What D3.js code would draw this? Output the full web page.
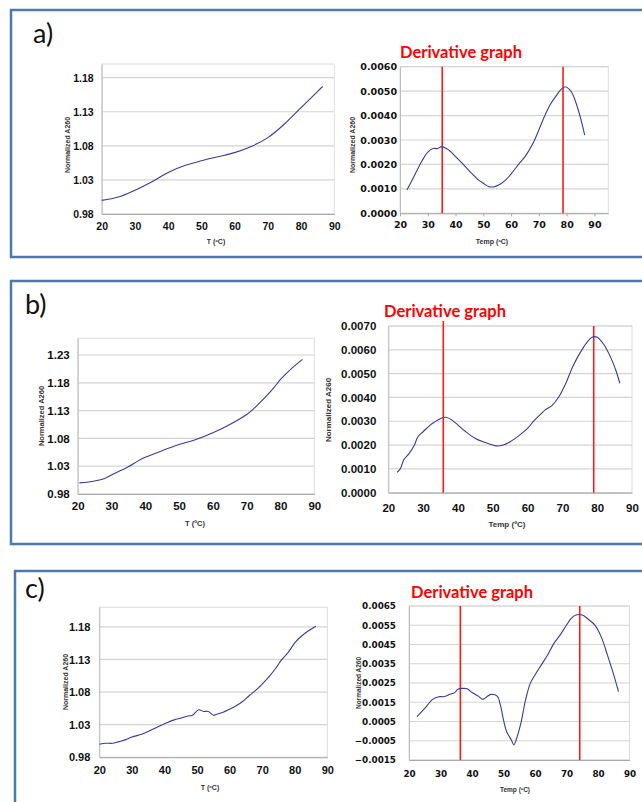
<!DOCTYPE html>
<html>
<head>
<meta charset="utf-8">
<script src="https://cdn.jsdelivr.net/npm/d3@7"></script>
<style>
  body { margin: 0; background: white; }
</style>
</head>
<body>
<div id="chart"></div>
<script>
// ---- data ----
var tempTicks = [20, 30, 40, 50, 60, 70, 80, 90];

var meltTicksA = [0.98, 1.03, 1.08, 1.13, 1.18];
var meltTicksB = [0.98, 1.03, 1.08, 1.13, 1.18, 1.23];
var meltTicksC = [0.98, 1.03, 1.08, 1.13, 1.18];
var derivTicksA = [0, 0.001, 0.002, 0.003, 0.004, 0.005, 0.006];
var derivTicksB = [0, 0.001, 0.002, 0.003, 0.004, 0.005, 0.006, 0.007];
var derivTicksC = [-0.0015, -0.0005, 0.0005, 0.0015, 0.0025, 0.0035, 0.0045, 0.0055, 0.0065];

// a) melting curve
var aMeltT = [20, 25, 30, 35, 40, 45, 50, 55, 60, 65, 70, 75, 80, 85, 86.5];
var aMeltA = [1.000, 1.005, 1.015, 1.027, 1.041, 1.051, 1.058, 1.064, 1.070, 1.079, 1.092, 1.112, 1.136, 1.160, 1.167];
// a) derivative
var aDerivT = [22.5, 25, 28, 30, 32, 33.5, 35, 37, 38, 40, 42, 45, 48, 50, 52, 54, 56, 58, 60, 63, 65, 68, 70, 72, 74, 76, 78, 79.5, 81, 82, 84, 85.5, 86.5];
var aDerivD = [0.00095, 0.0015, 0.00216, 0.0025, 0.00266, 0.00265, 0.00273, 0.00263, 0.00255, 0.00232, 0.00209, 0.00173, 0.00139, 0.00123, 0.00109, 0.00109, 0.00119, 0.00136, 0.00161, 0.00205, 0.00232, 0.00289, 0.00341, 0.00396, 0.00443, 0.00477, 0.00507, 0.00518, 0.00507, 0.00491, 0.0043, 0.00368, 0.0032];
var aPeaks = [35.2, 78.7];

// b) melting curve
var bMeltT = [20.5, 25, 28, 30, 33, 35, 38, 40, 45, 50, 55, 60, 65, 70, 72, 75, 78, 80, 83, 86.5];
var bMeltA = [1.000, 1.0035, 1.008, 1.014, 1.023, 1.029, 1.040, 1.046, 1.058, 1.069, 1.078, 1.090, 1.105, 1.123, 1.133, 1.151, 1.171, 1.186, 1.204, 1.222];
// b) derivative
var bDerivT = [22.5, 23.5, 24.5, 26, 27.5, 28.5, 30, 32, 33, 35, 36.5, 38, 40, 42, 45, 48, 50, 51.5, 53, 55, 58, 60, 62, 64, 65, 67, 69, 71, 73, 75, 77, 78.5, 80, 82, 84, 85.5, 86.5];
var bDerivD = [0.00085, 0.00102, 0.0014, 0.00165, 0.002, 0.00235, 0.00256, 0.00284, 0.00294, 0.00312, 0.00317, 0.00308, 0.00284, 0.00259, 0.00228, 0.0021, 0.002, 0.00196, 0.002, 0.00214, 0.00245, 0.0027, 0.00305, 0.00333, 0.00347, 0.00366, 0.00403, 0.0046, 0.0053, 0.00585, 0.0063, 0.00653, 0.00653, 0.0062, 0.00564, 0.00508, 0.00459];
var bPeaks = [35.8, 79.0];

// c) melting curve
var cMeltT = [20, 22, 24, 26, 28, 30, 33, 35, 38, 40, 43, 45, 47.5, 48.5, 50.5, 52, 53.5, 55, 56, 58, 60, 62, 64, 66, 68, 70, 72, 74, 76, 78, 80, 82, 84, 86.5];
var cMeltA = [1.000, 1.0015, 1.0015, 1.004, 1.0067, 1.011, 1.0154, 1.0195, 1.027, 1.0313, 1.0374, 1.040, 1.0436, 1.044, 1.0528, 1.0503, 1.0503, 1.0446, 1.046, 1.0492, 1.0538, 1.059, 1.0656, 1.0744, 1.0826, 1.0923, 1.103, 1.1154, 1.1297, 1.141, 1.1554, 1.1656, 1.1733, 1.181];
// c) derivative
var cDerivT = [22.5, 25, 27.5, 29.5, 31, 33, 34.5, 35.5, 37, 38.5, 40, 42, 43.5, 45, 46, 48, 49, 50, 51, 52.5, 53.3, 54, 55.5, 57, 58.5, 60, 62, 64, 66, 68, 70, 71.5, 73, 75, 77, 79, 81, 83, 85, 86.5];
var cDerivD = [0.00075, 0.00118, 0.00165, 0.00179, 0.00179, 0.00191, 0.002, 0.00217, 0.00222, 0.0022, 0.00201, 0.00182, 0.00165, 0.00182, 0.00191, 0.00182, 0.00136, 0.00058, -0.00003, -0.00046, -0.00072, -0.00046, 0.0004, 0.00162, 0.00248, 0.00292, 0.00344, 0.00395, 0.00456, 0.005, 0.00551, 0.00586, 0.00603, 0.00603, 0.0058, 0.00551, 0.00491, 0.00395, 0.00292, 0.00205];
var cPeaks = [36.3, 74.2];

// ---- page ----
var svgWidth  = 642;
var svgHeight = 802;
var lineColor = "#3a3a9e";
var gridColor = "#d4d4d4";

var svg = d3.select("#chart")
  .append("svg")
  .attr("width", svgWidth)
  .attr("height", svgHeight);

svg.append("rect")
  .attr("width", svgWidth)
  .attr("height", svgHeight)
  .style("fill", "white");

// blue frames round each panel
var frames = [
  { x: 11, y: 10,  w: 640, h: 247, label: "a)", lx: 33, ly: 43 },
  { x: 11, y: 281, w: 640, h: 263, label: "b)", lx: 25, ly: 314 },
  { x: 15, y: 571, w: 640, h: 240, label: "c)", lx: 25, ly: 598 }
];

frames.forEach(function(f) {
  svg.append("rect")
    .attr("x", f.x).attr("y", f.y)
    .attr("width", f.w).attr("height", f.h)
    .style("fill", "none")
    .style("stroke", "#4d79ad")
    .style("stroke-width", 2.5);
  svg.append("text")
    .attr("x", f.lx).attr("y", f.ly)
    .attr("font-family", "Lato, 'Open Sans', sans-serif")
    .attr("font-size", 27)
    .attr("fill", "#111")
    .text(f.label);
});

// one chart
function drawChart(c) {
  var x = d3.scaleLinear().domain(c.xDomain).range([c.x0, c.x1]);
  var y = d3.scaleLinear().domain(c.yDomain).range([c.yBot, c.yTop]);
  var g = svg.append("g");

  // plot frame and gridlines
  g.append("rect")
    .attr("x", c.x0).attr("y", c.yTop)
    .attr("width", c.x1 - c.x0).attr("height", c.yBot - c.yTop)
    .style("fill", "none").style("stroke", "#dcdcdc").style("stroke-width", 1);

  g.selectAll(".grid")
    .data(c.yTicks)
    .enter()
      .append("line")
      .attr("x1", c.x0).attr("x2", c.x1)
      .attr("y1", function(d) { return y(d); })
      .attr("y2", function(d) { return y(d); })
      .style("stroke", gridColor).style("stroke-width", 1.2);

  // axes
  var yAxis = d3.axisLeft(y)
    .tickValues(c.yTicks)
    .tickSize(0)
    .tickPadding(c.yGap)
    .tickFormat(d3.format(c.fmt));
  var ya = g.append("g").attr("transform", "translate(" + c.x0 + ",0)").call(yAxis);
  ya.select(".domain").style("stroke", "#bdbdbd");
  ya.selectAll("text")
    .attr("font-family", c.font).attr("font-size", c.size)
    .attr("font-weight", "bold").attr("fill", "#111");

  var xAxis = d3.axisBottom(x)
    .tickValues(tempTicks)
    .tickSizeInner(c.tick)
    .tickSizeOuter(0)
    .tickFormat(d3.format("d"));
  var xa = g.append("g").attr("transform", "translate(0," + c.yBot + ")").call(xAxis);
  xa.select(".domain").style("stroke", "#a8a8a8");
  xa.selectAll("line").style("stroke", "#a8a8a8");
  xa.selectAll("text")
    .attr("y", c.xGap).attr("dy", "0.35em")
    .attr("font-family", c.font).attr("font-size", c.size)
    .attr("font-weight", "bold").attr("fill", "#111");

  // axis titles
  g.append("text")
    .attr("x", c.xtX).attr("y", c.xtY)
    .attr("text-anchor", "middle")
    .attr("font-family", "'Liberation Sans', Arial, sans-serif")
    .attr("font-size", c.titleSize).attr("font-weight", "bold").attr("fill", "#333")
    .text(c.xTitle);

  g.append("text")
    .attr("transform", "translate(" + c.ytX + "," + c.ytY + ") rotate(-90)")
    .attr("text-anchor", "middle")
    .attr("font-family", "'Liberation Sans', Arial, sans-serif")
    .attr("font-size", c.titleSize).attr("font-weight", "bold").attr("fill", "#333")
    .text("Normalized A260");

  // red markers at the peaks
  if (c.peaks) {
    g.selectAll(".peak")
      .data(c.peaks)
      .enter()
        .append("line")
        .attr("x1", function(d) { return x(d); })
        .attr("x2", function(d) { return x(d); })
        .attr("y1", function(d, i) { return c.yTop - (c.peakExt ? c.peakExt[i] : 0); })
        .attr("y2", c.yBot)
        .style("stroke", "#ff1a1a").style("stroke-width", 1.6);

    g.append("text")
      .attr("x", c.headX).attr("y", c.headY)
      .attr("font-family", "Lato, 'Open Sans', sans-serif")
      .attr("font-size", 17).attr("font-weight", "bold")
      .attr("fill", "#ff0000")
      .attr("textLength", 122).attr("lengthAdjust", "spacingAndGlyphs")
      .text("Derivative graph");
  }

  // the curve
  var pts = c.t.map(function(d, i) { return [d, c.v[i]]; });
  var line = d3.line()
    .x(function(d) { return x(d[0]); })
    .y(function(d) { return y(d[1]); })
    .curve(d3.curveCatmullRom.alpha(0.5));

  g.append("path")
    .datum(pts)
    .attr("d", line)
    .style("fill", "none")
    .style("stroke", lineColor)
    .style("stroke-width", 1.1);
}

var arial  = "'Liberation Sans', Arial, sans-serif";
var dejavu = "'DejaVu Sans', sans-serif";

// a)
drawChart({ x0: 101.7, x1: 334.3, yTop: 64, yBot: 214, xDomain: [20, 90], yDomain: [0.98, 1.20],
  yTicks: meltTicksA, fmt: ".2f", t: aMeltT, v: aMeltA, font: arial, size: 10.5, yGap: 8, xGap: 12, tick: 0,
  xTitle: "T (ºC)", xtX: 216, xtY: 244, ytX: 70, ytY: 145, titleSize: 7 });
drawChart({ x0: 400, x1: 608.3, yTop: 66.7, yBot: 213.3, xDomain: [20, 95], yDomain: [0, 0.006],
  yTicks: derivTicksA, fmt: ".4f", t: aDerivT, v: aDerivD, font: dejavu, size: 9.5, yGap: 3, xGap: 11, tick: 3,
  xTitle: "Temp (ºC)", xtX: 492, xtY: 244, ytX: 355, ytY: 145, titleSize: 7,
  peaks: aPeaks, headX: 400, headY: 58 });

// b)
drawChart({ x0: 77.7, x1: 314.3, yTop: 338.3, yBot: 494, xDomain: [20, 90], yDomain: [0.98, 1.26],
  yTicks: meltTicksB, fmt: ".2f", t: bMeltT, v: bMeltA, font: arial, size: 11.5, yGap: 8, xGap: 12, tick: 0,
  xTitle: "T (ºC)", xtX: 195, xtY: 526, ytX: 44, ytY: 416, titleSize: 7.5 });
drawChart({ x0: 388.3, x1: 632, yTop: 326, yBot: 492.7, xDomain: [20, 90], yDomain: [0, 0.007],
  yTicks: derivTicksB, fmt: ".4f", t: bDerivT, v: bDerivD, font: arial, size: 11.5, yGap: 12, xGap: 15.5, tick: 0,
  xTitle: "Temp (ºC)", xtX: 507, xtY: 527, ytX: 331, ytY: 410, titleSize: 8,
  peaks: bPeaks, peakExt: [5, 0], headX: 384, headY: 317 });

// c)
drawChart({ x0: 99.3, x1: 327.3, yTop: 607.3, yBot: 757.3, xDomain: [20, 90], yDomain: [0.98, 1.21],
  yTicks: meltTicksC, fmt: ".2f", t: cMeltT, v: cMeltA, font: arial, size: 11, yGap: 9, xGap: 12.5, tick: 0,
  xTitle: "T (ºC)", xtX: 210, xtY: 790, ytX: 68, ytY: 682, titleSize: 7 });
drawChart({ x0: 409, x1: 629.5, yTop: 606, yBot: 760, xDomain: [20, 90], yDomain: [-0.0015, 0.0065],
  yTicks: derivTicksC, fmt: ".4f", t: cDerivT, v: cDerivD, font: dejavu, size: 8.8, yGap: 13, xGap: 13.5, tick: 0,
  xTitle: "Temp (ºC)", xtX: 515, xtY: 792, ytX: 361, ytY: 683, titleSize: 6.5,
  peaks: cPeaks, headX: 411, headY: 598 });
</script>
</body>
</html>
